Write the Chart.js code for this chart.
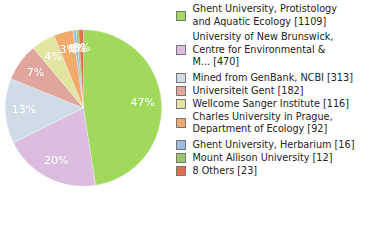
<!DOCTYPE html>
<html>
<head>
<meta charset="utf-8">
<script src="https://cdn.jsdelivr.net/npm/chart.js@4.4.0/dist/chart.umd.min.js"></script>
<style>
  body { margin: 0; background: #fff; width: 380px; height: 240px; overflow: hidden; }
  #pie-wrap { position: absolute; left: 0; top: 0; width: 167px; height: 216px; }
  #legend { position: absolute; left: 176px; top: 3.25px; font-family: "DejaVu Sans Condensed", "DejaVu Sans", sans-serif; font-size: 10.75px; color: #222; }
  #legend .item { position: relative; padding-left: 16.5px; line-height: 12.5px; margin-bottom: 0.5px; }
  #legend .item.multi { margin-bottom: 3px; }
  #legend .box { position: absolute; left: 0; top: 50%; width: 8px; height: 8px; margin-top: -5px; border: 1px solid #777; }
</style>
</head>
<body>
<div id="pie-wrap"><canvas id="pie-chart"></canvas></div>
<div id="legend"></div>
<script>
(function () {
    "use strict";
    var labels = [
        ["Ghent University, Protistology", "and Aquatic Ecology"],
        ["University of New Brunswick,", "Centre for Environmental &", "M..."],
        ["Mined from GenBank, NCBI"],
        ["Universiteit Gent"],
        ["Wellcome Sanger Institute"],
        ["Charles University in Prague,", "Department of Ecology"],
        ["Ghent University, Herbarium"],
        ["Mount Allison University"],
        ["8 Others"]
    ];
    var counts = [1109, 470, 313, 182, 116, 92, 16, 12, 23];
    var colors = [
        "#a0d95c", "#dcbde0", "#cfdbe6", "#e0a69d", "#e2e4a1",
        "#f0aa6b", "#9dbde1", "#9cc66b", "#e0714f"
    ];

    var total = counts.reduce(function (a, b) { return a + b; }, 0);

    // legend on the right
    var legend = document.getElementById("legend");
    labels.forEach(function (lines, i) {
        var item = document.createElement("div");
        item.className = lines.length > 1 ? "item multi" : "item";
        var text = lines.slice();
        text[text.length - 1] += " [" + counts[i] + "]";
        item.innerHTML = '<span class="box" style="background:' + colors[i] + '"></span>' + text.join("<br>");
        legend.appendChild(item);
    });

    // white percent labels inside the slices
    var percentLabels = {
        id: "percentLabels",
        afterDatasetsDraw: function (chart) {
            var ctx = chart.ctx;
            var meta = chart.getDatasetMeta(0);
            ctx.save();
            ctx.font = "11px 'DejaVu Sans'";
            ctx.fillStyle = "#fff";
            ctx.textAlign = "center";
            ctx.textBaseline = "middle";
            meta.data.forEach(function (arc, i) {
                var p = arc.getProps(["x", "y", "startAngle", "endAngle", "outerRadius"], true);
                var mid = (p.startAngle + p.endAngle) / 2;
                var r = p.outerRadius * 0.76;
                var pct = Math.floor(counts[i] / total * 100) + "%";
                ctx.fillText(pct, p.x + Math.cos(mid) * r, p.y + Math.sin(mid) * r);
            });
            ctx.restore();
        }
    };

    var ctxPie = document.getElementById("pie-chart").getContext("2d");
    new Chart(ctxPie, {
        type: "pie",
        data: {
            labels: labels.map(function (l) { return l.join(" "); }),
            datasets: [{
                data: counts,
                backgroundColor: colors,
                borderColor: "rgba(255,255,255,0.5)",
                borderWidth: 0.5
            }]
        },
        options: {
            responsive: true,
            maintainAspectRatio: false,
            animation: false,
            layout: { padding: 5 },
            plugins: {
                legend: { display: false },
                tooltip: { enabled: false }
            }
        },
        plugins: [percentLabels]
    });
})();
</script>
</body>
</html>
